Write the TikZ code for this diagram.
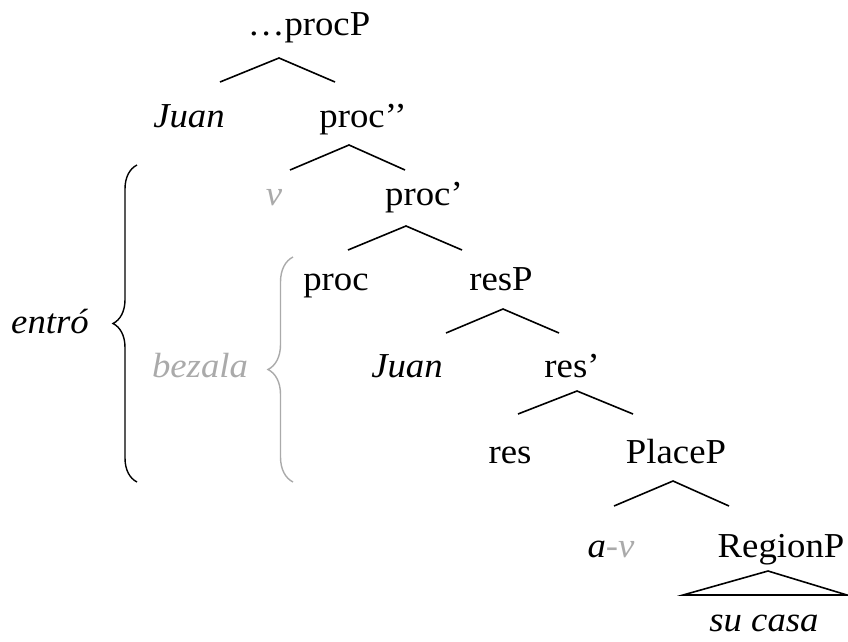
\documentclass[tikz,border=0pt]{standalone}
\usepackage{fontspec}
\setmainfont{Liberation Serif}[FakeStretch=1.05]
\usetikzlibrary{decorations.pathreplacing}
\definecolor{lg}{RGB}{170,170,170}
\tikzset{
  lbl/.style={inner sep=0pt, anchor=base, font=\fontsize{35}{40}\selectfont},
  it/.style={lbl, font=\fontsize{35}{40}\selectfont\itshape},
  branch/.style={line width=1.6pt, line join=miter},
  bracebig/.style={line width=1.4pt, decorate, decoration={brace, amplitude=24pt}},
}
\begin{document}
\begin{tikzpicture}[x=1pt, y=-1pt]
\useasboundingbox (0,0) rectangle (848,641);
% labels
\node[lbl] (procP) at (309,35) {…procP};
\node[it] (juanA) at (189,127) {Juan};
\node[lbl] (procB) at (363,127) {proc’’};
\node[it, text=lg] (vA) at (274,205) {v};
\node[lbl] (procC) at (424,205) {proc’};
\node[lbl] (procD) at (336,290) {proc};
\node[lbl] (resP) at (501,290) {resP};
\node[it] (juanB) at (407,377) {Juan};
\node[lbl] (resB) at (572,377) {res’};
\node[lbl] (resC) at (510,463) {res};
\node[lbl] (placeP) at (676,463) {PlaceP};
\node[it] (av) at (611,557) {a\textcolor{lg}{-v}};
\node[lbl] (regionP) at (781,557) {RegionP};
\node[it] (sucasa) at (764,631) {su casa};
\node[it] (entro) at (50,333) {entró};
\node[it, text=lg] (bezala) at (200,377) {bezala};
% branch points
\coordinate (a1) at (279,58);  \coordinate (l1) at (220,82);  \coordinate (r1) at (335,82);
\coordinate (a2) at (349,145); \coordinate (l2) at (290,170); \coordinate (r2) at (405,170);
\coordinate (a3) at (406,226); \coordinate (l3) at (348,250); \coordinate (r3) at (462,250);
\coordinate (a4) at (503,309); \coordinate (l4) at (446,333); \coordinate (r4) at (559,333);
\coordinate (a5) at (577,391); \coordinate (l5) at (518,414); \coordinate (r5) at (633,414);
\coordinate (a6) at (673,481); \coordinate (l6) at (614,506); \coordinate (r6) at (729,506);
\coordinate (a7) at (768,571); \coordinate (l7) at (683,595); \coordinate (r7) at (847,595);
\draw[branch] (l1) -- (a1) -- (r1);
\draw[branch] (l2) -- (a2) -- (r2);
\draw[branch] (l3) -- (a3) -- (r3);
\draw[branch] (l4) -- (a4) -- (r4);
\draw[branch] (l5) -- (a5) -- (r5);
\draw[branch] (l6) -- (a6) -- (r6);
\draw[branch] (l7) -- (a7) -- (r7) -- cycle;
% braces
\coordinate (bb1) at (137,482); \coordinate (bb2) at (137,165);
\coordinate (gb1) at (293,482); \coordinate (gb2) at (293,257);
\draw[bracebig] (bb1) -- (bb2);
\draw[bracebig, draw=lg, decoration={brace, amplitude=25pt}] (gb1) -- (gb2);
\end{tikzpicture}
\end{document}
